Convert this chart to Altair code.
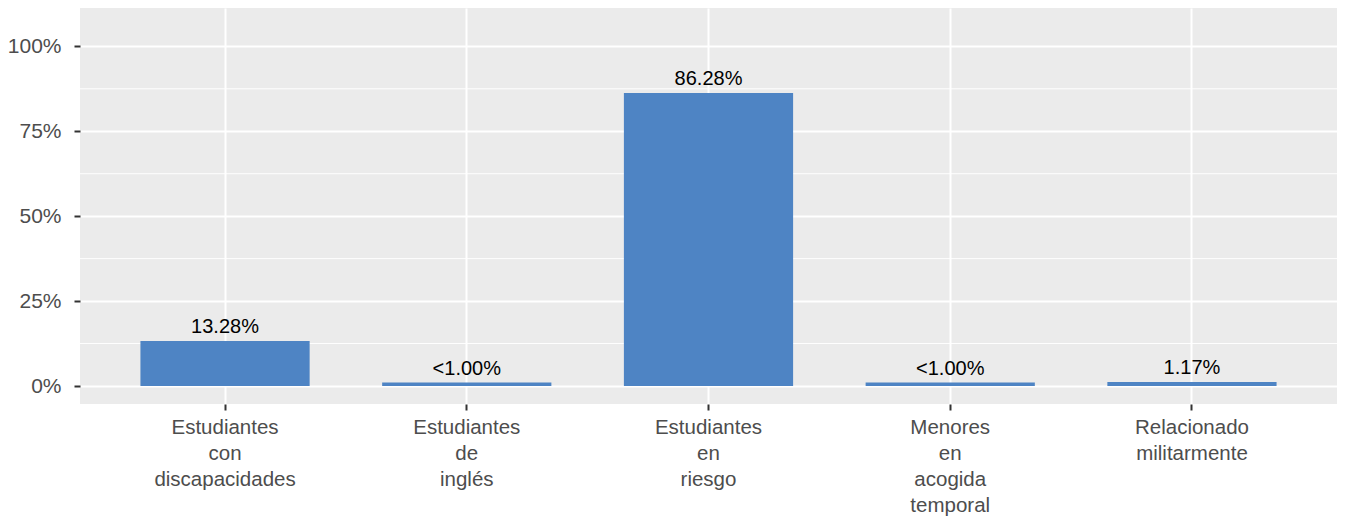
import altair as alt
import pandas as pd

categories = [
    "Estudiantes con discapacidades",
    "Estudiantes de inglés",
    "Estudiantes en riesgo",
    "Menores en acogida temporal",
    "Relacionado militarmente",
]
values = [13.28, 1.0, 86.28, 1.0, 1.17]
value_labels = ["13.28%", "<1.00%", "86.28%", "<1.00%", "1.17%"]
y_ticks = [0, 25, 50, 75, 100]
minor_grid = [12.5, 37.5, 62.5, 87.5]

df = pd.DataFrame({"cat": categories, "val": values, "lab": value_labels})
minor_df = pd.DataFrame({"g": minor_grid})

FONT = "Liberation Sans"

x_enc = alt.X(
    "cat:N",
    sort=categories,
    title=None,
    scale=alt.Scale(paddingInner=0.3, paddingOuter=0.25),
    axis=alt.Axis(
        labelExpr="split(datum.label, ' ')",
        labelAngle=0,
        labelFont=FONT,
        labelFontSize=20.5,
        labelColor="#4D4D4D",
        labelLineHeight=26,
        labelPadding=7,
        tickColor="#333333",
        tickSize=6,
        tickWidth=2,
        domain=False,
        grid=True,
        gridColor="white",
        gridWidth=2,
        bandPosition=0.5,
    ),
)

y_scale = alt.Scale(domain=[-5.3, 111.3], nice=False, zero=False)

bars = alt.Chart(df).mark_bar(color="#4E84C4").encode(
    x=x_enc,
    y=alt.Y(
        "val:Q",
        scale=y_scale,
        title=None,
        axis=alt.Axis(
            values=y_ticks,
            labelExpr="datum.value + '%'",
            labelFont=FONT,
            labelFontSize=21,
            labelColor="#4D4D4D",
            labelPadding=13,
            tickColor="#333333",
            tickSize=6,
            tickWidth=2,
            domain=False,
            grid=True,
            gridColor="white",
            gridWidth=2,
        ),
    ),
    y2=alt.datum(0),
)

minor = alt.Chart(minor_df).mark_rule(color="white", strokeWidth=1).encode(
    y=alt.Y("g:Q", scale=y_scale)
)

text = alt.Chart(df).mark_text(
    baseline="bottom", dy=-4, font=FONT, fontSize=20, color="black"
).encode(
    x=alt.X("cat:N", sort=categories),
    y=alt.Y("val:Q", scale=y_scale),
    text="lab:N",
)

chart = (
    alt.layer(minor, bars, text)
    .properties(
        width=1257,
        height=396,
        autosize=alt.AutoSizeParams(type="none"),
        padding={"left": 72, "top": 0, "right": 0, "bottom": 113},
    )
    .configure_view(fill="#EBEBEB", stroke=None)
    .configure_axis(gridColor="white")
)

chart.save("out.html", embed_options={"renderer": "svg", "actions": False})
